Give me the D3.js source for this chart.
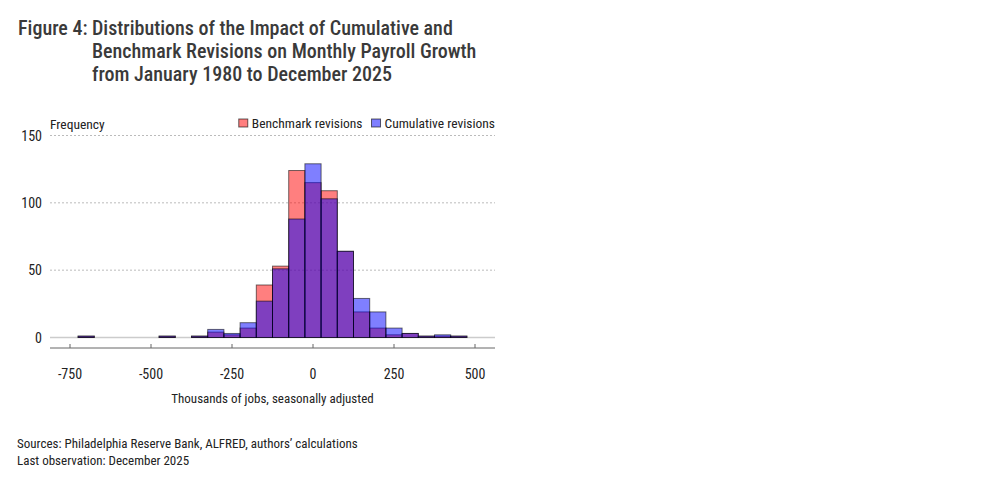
<!DOCTYPE html>
<html>
<head>
<meta charset="utf-8">
<script src="https://cdn.jsdelivr.net/npm/d3@7"></script>
<style>
  body { margin: 0; background: #fff; }
  text { font-family: "Liberation Sans Narrow", "Roboto Condensed", "DejaVu Sans Condensed", sans-serif; fill: #222; }
</style>
</head>
<body>
<script>
// bin centres (thousands of jobs), bin width 50
var binCenters = [-700, -650, -600, -550, -500, -450, -400, -350, -300, -250, -200, -150, -100,
                  -50, 0, 50, 100, 150, 200, 250, 300, 350, 400, 450];
var benchmark  = [1, 0, 0, 0, 0, 1, 0, 1, 4, 2, 7, 39, 53, 124, 115, 109, 64, 19, 7, 2, 3, 1, 1, 1];
var cumulative = [1, 0, 0, 0, 0, 1, 0, 1, 6, 3, 11, 27, 51, 88, 129, 103, 64, 29, 19, 7, 3, 1, 2, 1];
var binWidth = 50;

var xTicks = [-750, -500, -250, 0, 250, 500];
var yTicks = [0, 50, 100, 150];

var titleLines = ["Distributions of the Impact of Cumulative and",
                  "Benchmark Revisions on Monthly Payroll Growth",
                  "from January 1980 to December 2025"];
var footLines = ["Sources: Philadelphia Reserve Bank, ALFRED, authors\u2019 calculations",
                 "Last observation: December 2025"];

var W = 991, H = 477;
var svg = d3.select("body").append("svg")
    .attr("width", W)
    .attr("height", H);

// title
svg.append("text")
    .attr("x", 18).attr("y", 35)
    .attr("font-size", 20).attr("font-weight", 500)
    .style("fill", "#3a3a3a")
    .text("Figure 4:");
titleLines.forEach(function(t, i) {
  svg.append("text")
      .attr("x", 92).attr("y", 35 + i * 23)
      .attr("font-size", 20).attr("font-weight", 500)
      .style("fill", "#3a3a3a")
      .text(t);
});

// scales
var x = d3.scaleLinear().domain([-750, 500]).range([70, 475]);
var y = d3.scaleLinear().domain([0, 150]).range([337.5, 135.5]);
var left = 50, right = 495;

// gridlines
svg.append("g").selectAll("line")
    .data(yTicks.filter(function(d) { return d > 0; }))
  .enter().append("line")
    .attr("x1", left).attr("x2", right)
    .attr("y1", function(d) { return y(d); })
    .attr("y2", function(d) { return y(d); })
    .attr("stroke", "#bbb")
    .attr("stroke-dasharray", "2,2");

svg.append("line")
    .attr("x1", left).attr("x2", right)
    .attr("y1", y(0)).attr("y2", y(0))
    .attr("stroke", "#ccc")
    .attr("stroke-width", 1.5);

// y labels
svg.append("g").selectAll("text")
    .data(yTicks)
  .enter().append("text")
    .attr("x", 42)
    .attr("y", function(d) { return y(d) + 5; })
    .attr("text-anchor", "end")
    .attr("font-size", 14)
    .text(function(d) { return d; });

svg.append("text")
    .attr("x", 50).attr("y", 129)
    .attr("font-size", 13.5)
    .text("Frequency");

// bars
function drawBars(values, fill) {
  svg.append("g").selectAll("rect")
      .data(values.map(function(v, i) { return { c: binCenters[i], v: v }; })
                  .filter(function(d) { return d.v > 0; }))
    .enter().append("rect")
      .attr("x", function(d) { return x(d.c - binWidth / 2); })
      .attr("width", function(d) { return x(d.c + binWidth / 2) - x(d.c - binWidth / 2); })
      .attr("y", function(d) { return y(d.v); })
      .attr("height", function(d) { return y(0) - y(d.v); })
      .attr("fill", fill)
      .attr("fill-opacity", 0.5)
      .attr("stroke", "#000")
      .attr("stroke-opacity", 0.55)
      .attr("stroke-width", 1);
}
drawBars(benchmark, "#ff0000");
drawBars(cumulative, "#0000ff");

// x axis
var xAxis = svg.append("g")
    .attr("transform", "translate(0,348)");
xAxis.append("line")
    .attr("x1", left).attr("x2", right)
    .attr("stroke", "#666");
xAxis.selectAll(".tick")
    .data(xTicks)
  .enter().append("line")
    .attr("x1", function(d) { return x(d); })
    .attr("x2", function(d) { return x(d); })
    .attr("y1", 0).attr("y2", -4)
    .attr("stroke", "#666");
xAxis.selectAll("text")
    .data(xTicks)
  .enter().append("text")
    .attr("x", function(d) { return x(d); })
    .attr("y", 31)
    .attr("text-anchor", "middle")
    .attr("font-size", 14)
    .text(function(d) { return d; });

svg.append("text")
    .attr("x", (left + right) / 2).attr("y", 403)
    .attr("text-anchor", "middle")
    .attr("font-size", 13)
    .text("Thousands of jobs, seasonally adjusted");

// legend, laid out right to left so it ends at the plot's right edge
var legend = [
  { label: "Benchmark revisions", fill: "#ff0000" },
  { label: "Cumulative revisions", fill: "#0000ff" }
];
var lg = svg.append("g").selectAll("g")
    .data(legend)
  .enter().append("g");
lg.append("rect")
    .attr("width", 9).attr("height", 8)
    .attr("fill", function(d) { return d.fill; })
    .attr("fill-opacity", 0.5)
    .attr("stroke", "#000").attr("stroke-opacity", 0.6);
lg.append("text")
    .attr("x", 13).attr("y", 9)
    .attr("font-size", 13.5)
    .text(function(d) { return d.label; });
var cursor = right;
lg.nodes().reverse().forEach(function(node) {
  var w = node.getBBox().width;
  cursor -= w;
  d3.select(node).attr("transform", "translate(" + cursor + ",119)");
  cursor -= 9;
});

// footer
footLines.forEach(function(t, i) {
  svg.append("text")
      .attr("x", 17).attr("y", 448 + i * 17)
      .attr("font-size", 13)
      .text(t);
});
</script>
</body>
</html>
